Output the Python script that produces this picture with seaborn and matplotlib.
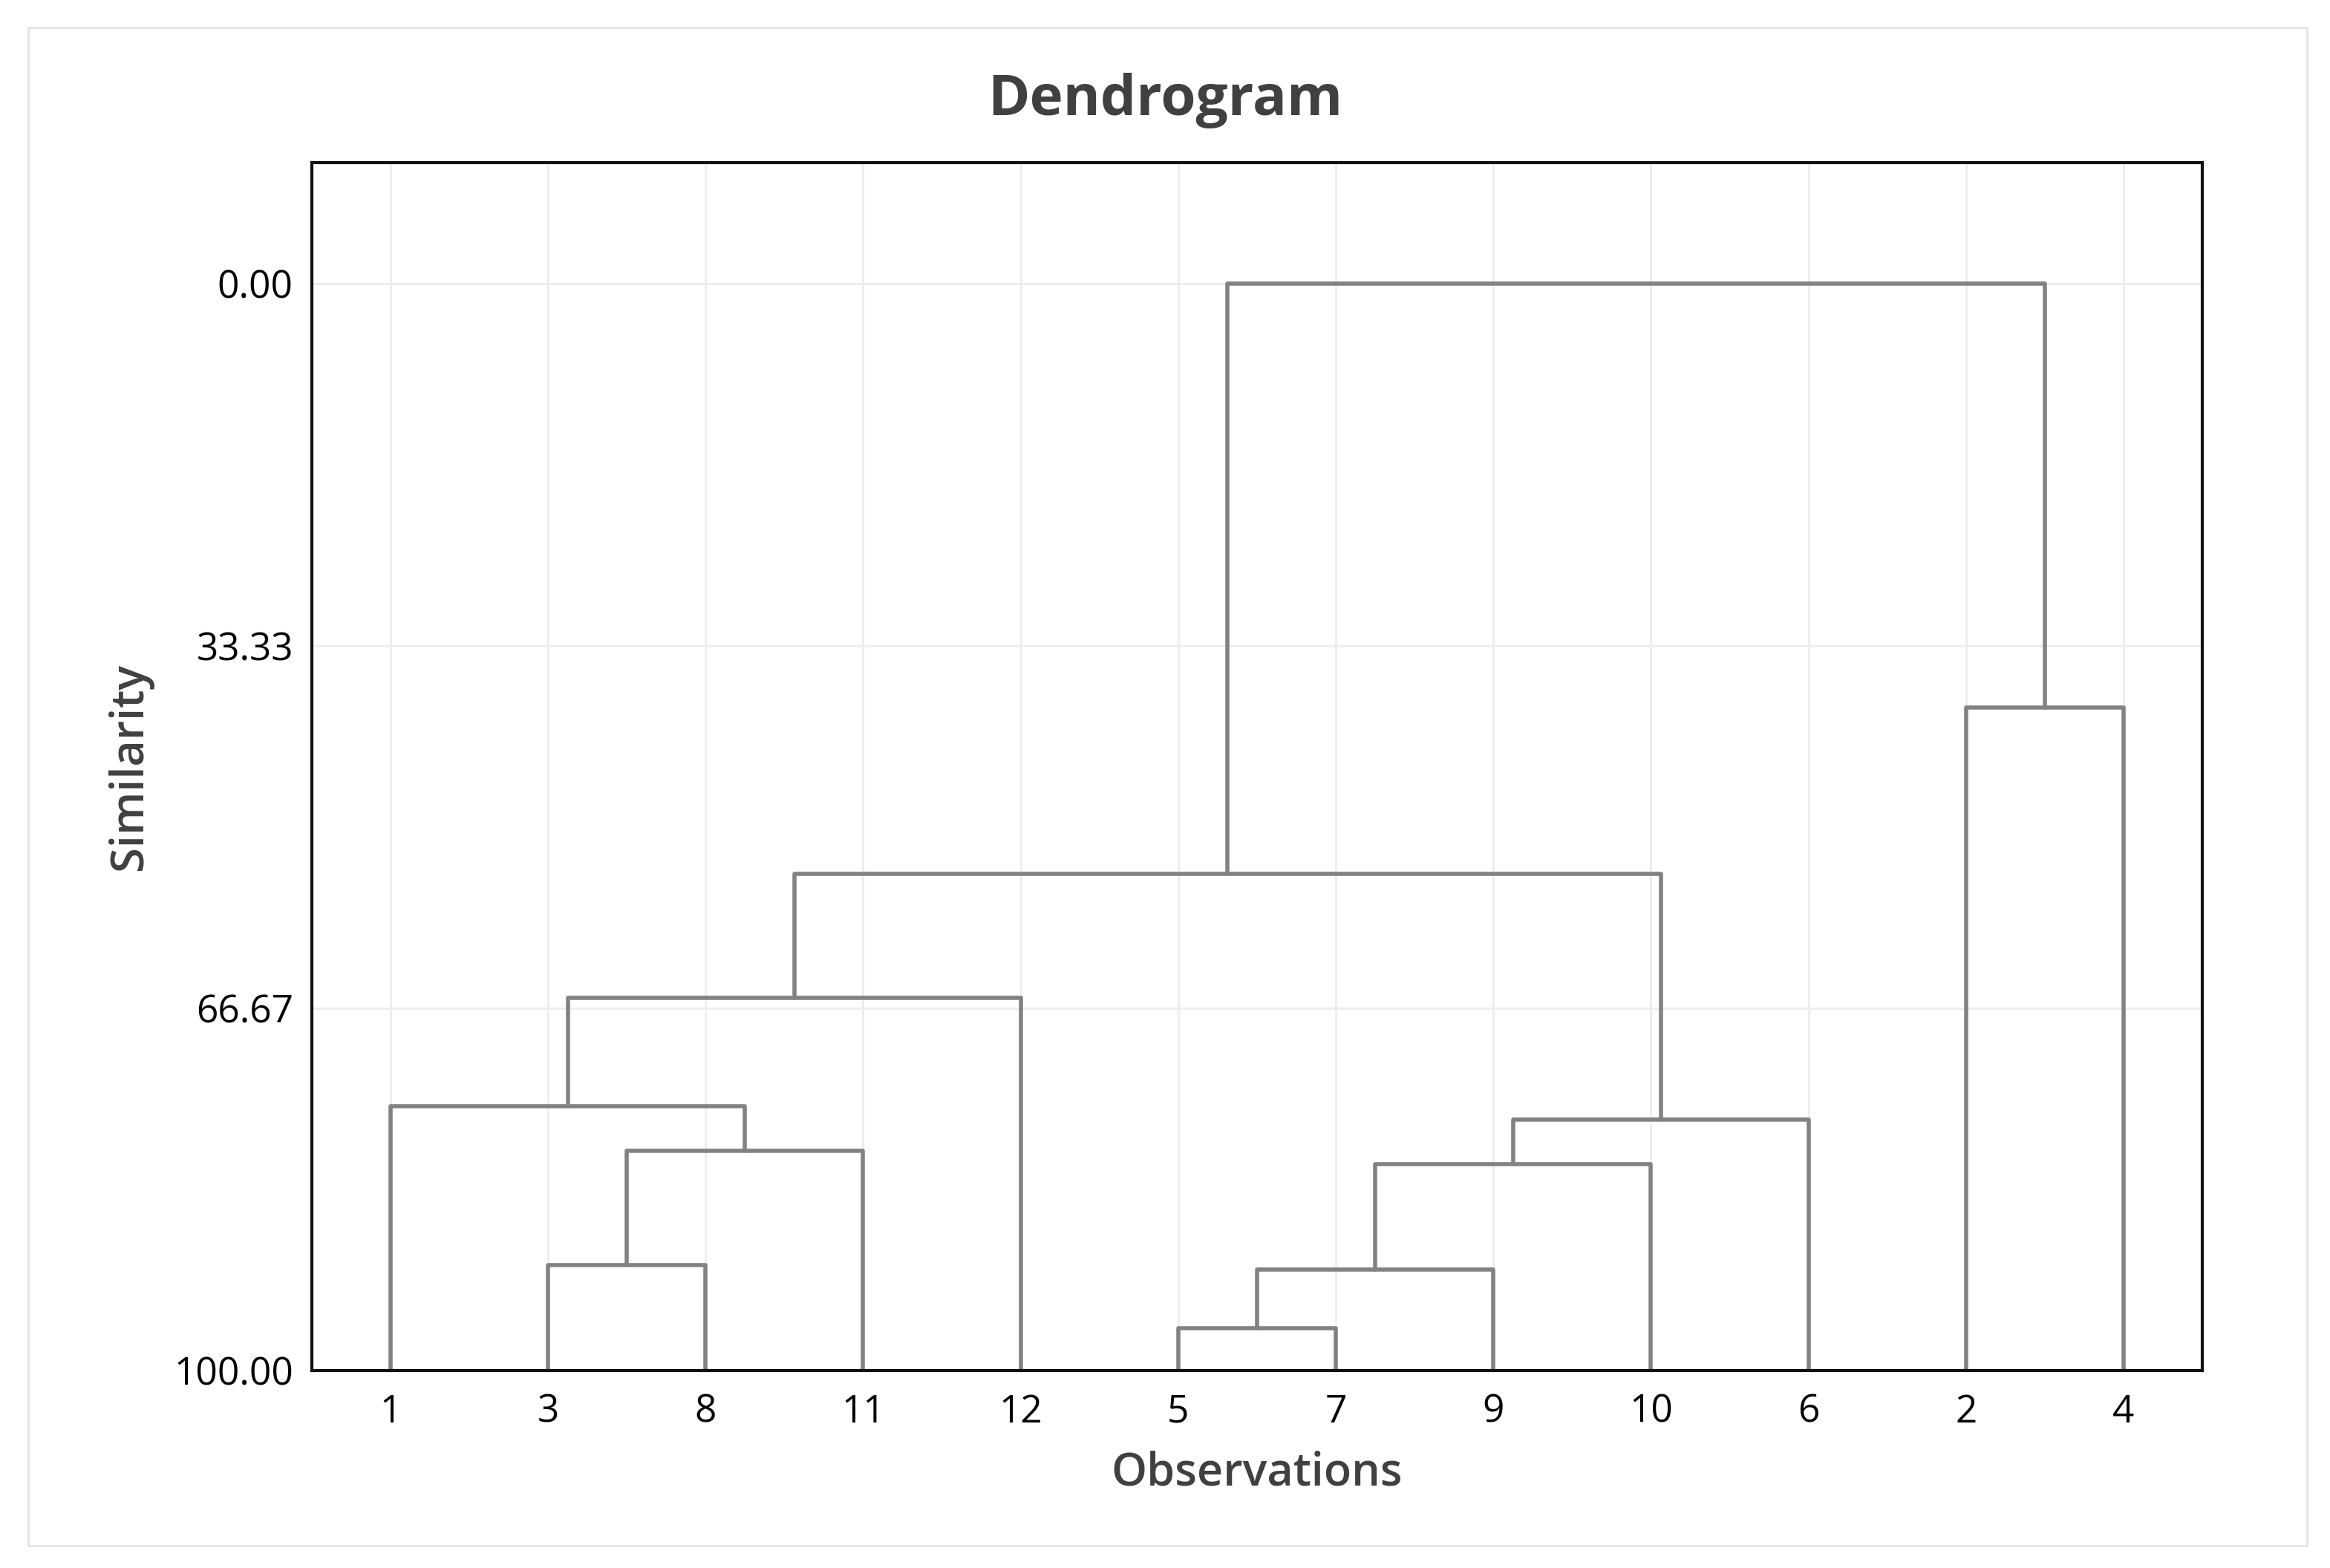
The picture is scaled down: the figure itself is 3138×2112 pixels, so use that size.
import matplotlib
matplotlib.use('Agg')
import matplotlib.pyplot as plt
import seaborn as sns
import pandas as pd
import numpy as np
from matplotlib.patches import Rectangle

sns.set_style('white')
plt.rcParams['font.family'] = ['Open Sans', 'DejaVu Sans']

# leaf order along the x axis
leaves = ['1', '3', '8', '11', '12', '5', '7', '9', '10', '6', '2', '4']

# merges: (left node, right node, similarity); nodes 0..11 are leaves,
# node 12 is the first merge, 13 the second, and so on
merge_left = [1, 12, 0, 14, 5, 16, 17, 18, 15, 10, 20]
merge_right = [2, 3, 13, 4, 6, 7, 8, 9, 19, 11, 21]
merge_sim = [90.3, 79.8, 75.7, 65.7, 96.1, 90.7, 81.0, 76.9, 54.3, 39.0, 0.0]

y_ticks = [0.0, 33.33, 66.67, 100.0]

# build the link segments
node_x = list(range(len(leaves)))
node_h = [100.0] * len(leaves)
rows = []
for i, (a, b, h) in enumerate(zip(merge_left, merge_right, merge_sim)):
    xa, xb = node_x[a], node_x[b]
    pts = [(xa, node_h[a]), (xa, h), (xb, h), (xb, node_h[b])]
    for k, (px, py) in enumerate(pts):
        rows.append({'seg': i, 'order': k, 'x': px, 'y': py})
    node_x.append((xa + xb) / 2)
    node_h.append(h)
links = pd.DataFrame(rows)

fig = plt.figure(figsize=(15.69, 10.56), dpi=200)
ax = fig.add_axes([0.1338, 0.1259, 0.9452 - 0.1338, 0.8963 - 0.1259])

ax.set_axisbelow(True)
ax.grid(True, color='#ededed', lw=1.0)

sns.lineplot(data=links, x='x', y='y', units='seg', estimator=None,
             sort=False, color='#828282', lw=2.0, ax=ax, legend=False)

ax.set_xlim(-0.5, 11.5)
ax.set_ylim(100, -11.1)
ax.set_xticks(range(len(leaves)))
ax.set_xticklabels(leaves)
ax.set_yticks(y_ticks)
ax.set_yticklabels([f'{v:.2f}' for v in y_ticks])

for s in ax.spines.values():
    s.set_visible(True)
    s.set_color('#111111')
    s.set_linewidth(1.5)

ax.tick_params(axis='both', direction='out', length=6, width=1.3,
               color='#111111', labelsize=18.5, labelcolor='#000000')
ax.tick_params(axis='x', pad=5)
ax.tick_params(axis='y', pad=3)

ax.set_xlabel('Observations', fontsize=22, color='#404040', fontweight='semibold')
ax.set_ylabel('Similarity', fontsize=22, color='#404040', fontweight='semibold')
ax.xaxis.set_label_coords(0.5, -0.085)
ax.xaxis.label.set_va('center')
ax.yaxis.set_label_coords(-0.096, 0.5)
ax.yaxis.label.set_va('center')

fig.text(0.5, 0.936, 'Dendrogram', ha='center', va='center',
         fontsize=27.5, fontweight='bold', color='#404040')

# light frame around the whole graph
fig.patches.append(Rectangle((38 / 3138, 30 / 2112),
                             (3107 - 38) / 3138, (2075 - 30) / 2112,
                             transform=fig.transFigure, fill=False,
                             edgecolor='#e3e3e3', lw=1.0))

fig.savefig('out.png', dpi=200)
plt.close(fig)
